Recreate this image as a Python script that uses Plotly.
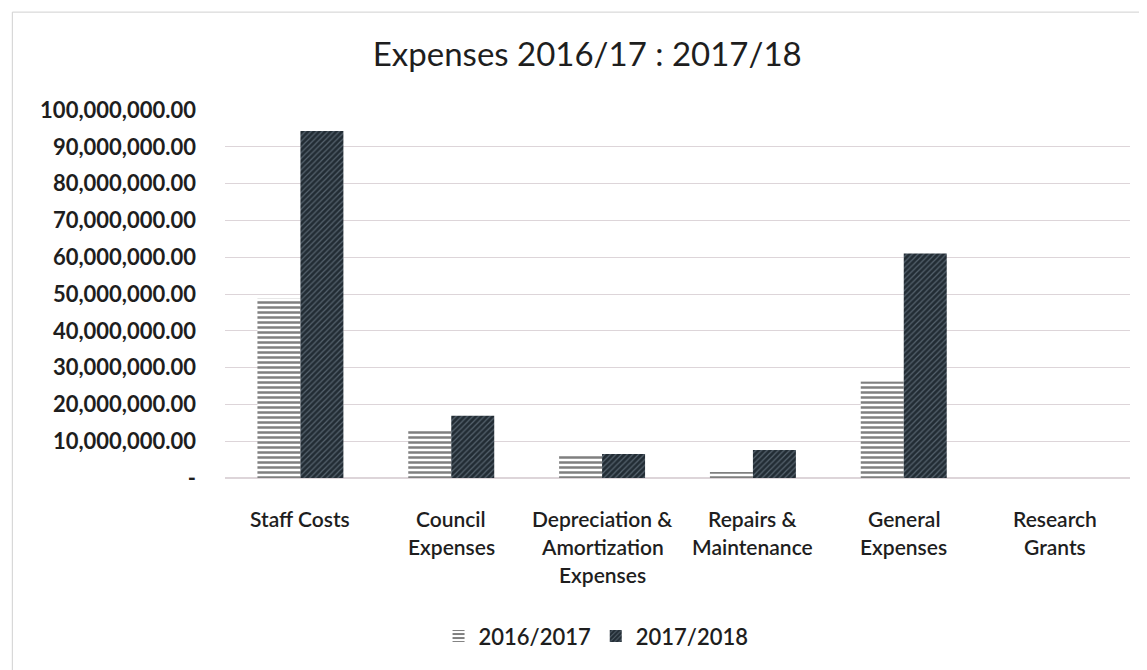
import plotly.graph_objects as go

categories = ["Staff Costs", "Council<br>Expenses", "Depreciation &<br>Amortization<br>Expenses",
              "Repairs &<br>Maintenance", "General<br>Expenses", "Research<br>Grants"]
values_2016 = [48700000, 12800000, 6300000, 1600000, 26200000, 0]
values_2017 = [94300000, 16900000, 6500000, 7600000, 61000000, 0]
tick_vals = [0, 10000000, 20000000, 30000000, 40000000, 50000000, 60000000, 70000000, 80000000, 90000000, 100000000]
tick_text = ["-", "10,000,000.00", "20,000,000.00", "30,000,000.00", "40,000,000.00", "50,000,000.00",
             "60,000,000.00", "70,000,000.00", "80,000,000.00", "90,000,000.00", "100,000,000.00"]

TXT = "#1e1e1e"

fig = go.Figure()
fig.add_trace(go.Bar(
    x=categories, y=values_2016, name="2016/2017",
    marker=dict(color="white", line=dict(width=0),
                pattern=dict(shape="-", fgcolor="#000000", bgcolor="white", size=5, solidity=0.5)),
))
fig.add_trace(go.Bar(
    x=categories, y=values_2017, name="2017/2018",
    marker=dict(color="#25313a", line=dict(width=0),
                pattern=dict(shape="/", fgcolor="#8a9aa8", bgcolor="#222c34", size=4, solidity=0.3)),
))

annotations = []
for cat in categories:
    for i, line in enumerate(cat.split("<br>")):
        annotations.append(dict(x=cat, xref="x", y=0, yref="paper", text=line, showarrow=False,
                                xanchor="center", yanchor="middle", yshift=-40 - 28 * i,
                                font=dict(family="Lato", size=21, color=TXT, weight=600)))

fig.update_layout(
    width=1147, height=670,
    paper_bgcolor="white", plot_bgcolor="white",
    margin=dict(l=217, r=25, t=102, b=200),
    barmode="group", bargap=0.43, bargroupgap=0,
    title=dict(text="Expenses 2016/17 : 2017/18", x=0.505, xanchor="center", y=0.93, yanchor="middle",
               font=dict(family="Lato", size=33, color=TXT)),
    font=dict(family="Lato", color=TXT),
    showlegend=True,
    legend=dict(orientation="h", x=0.41, xanchor="center", y=-0.43, yanchor="middle", itemwidth=30,
                font=dict(family="Lato", size=22, color=TXT, weight=600), traceorder="normal"),
    annotations=annotations,
    shapes=[dict(type="rect", xref="paper", yref="paper", x0=-0.235, x1=1.011, y0=-0.6, y1=1.266,
                 line=dict(color="#d0d0d0", width=1), layer="below")],
)
fig.update_xaxes(showgrid=False, showline=False, ticks="", showticklabels=False)
fig.update_yaxes(range=[0, 100000000], tickvals=tick_vals, ticktext=tick_text,
                 showgrid=True, gridcolor="#ddd5d9", gridwidth=1, zeroline=True, zerolinecolor="#ddd5d9",
                 showline=False, ticks="", ticklabelstandoff=28,
                 tickfont=dict(family="Lato", size=22, color=TXT, weight="bold"))

fig.write_html("out.html")
